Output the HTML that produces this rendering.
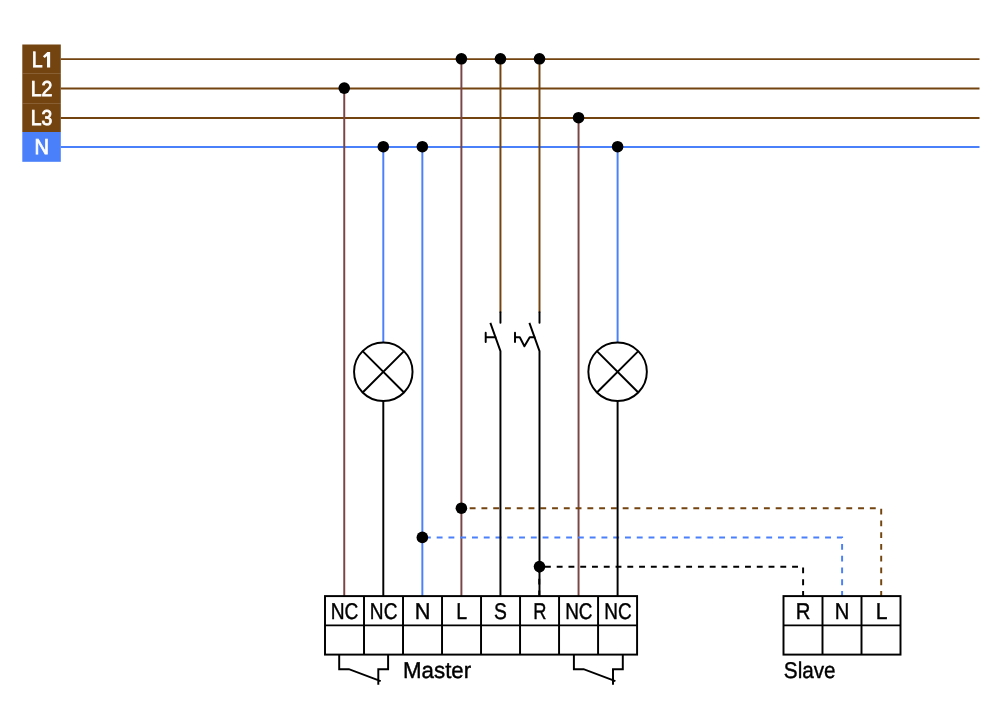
<!DOCTYPE html>
<html><head><meta charset="utf-8"><style>
html,body{margin:0;padding:0;background:#fff;width:1000px;height:726px;overflow:hidden}
svg{display:block;will-change:transform}
text{font-family:"Liberation Sans",sans-serif;text-rendering:geometricPrecision}
</style></head><body>
<svg width="1000" height="726" viewBox="0 0 1000 726">
<rect width="1000" height="726" fill="#fff"/>
<rect x="22.3" y="44.5" width="38.5" height="29" fill="#734410"/>
<rect x="22.3" y="73.3" width="38.5" height="30.2" fill="#734410"/>
<rect x="22.3" y="103.3" width="38.5" height="28.7" fill="#734410"/>
<rect x="22.3" y="132" width="38.5" height="29.8" fill="#4a80fa"/>
<text transform="translate(31.84 67.40) scale(0.8884 1)" font-size="22.0" fill="#fff" stroke="#fff" stroke-width="0.8">L</text>
<text transform="translate(30.73 96.45) scale(0.9070 1)" font-size="21.6" fill="#fff" stroke="#fff" stroke-width="0.8">L2</text>
<text transform="translate(30.75 125.45) scale(0.8979 1)" font-size="21.6" fill="#fff" stroke="#fff" stroke-width="0.8">L3</text>
<text transform="translate(34.50 154.45) scale(0.9259 1)" font-size="21.6" fill="#fff" stroke="#fff" stroke-width="0.8">N</text>
<path d="M50.15 52.1V67.5H47V56.1L44.7 57.9L42.9 56.3L47.4 52.1Z" fill="#fff"/>
<g stroke-width="1.95" fill="none">
<path d="M60.8 59.1H979.5M60.8 88.4H979.5M60.8 118.0H979.5" stroke="#734410"/>
<path d="M60.8 147.0H979.5" stroke="#4a80fa"/>
</g>
<path d="M344.25 88.4V596.1M461.4 59.1V596.1M578.55 118.0V596.1" stroke="#7a4545" stroke-width="1.95" fill="none"/>
<g stroke-width="1.95" fill="none" stroke-dasharray="5.885 5.885">
<path d="M881.2 596.9V508.2H461.4" stroke="#734410"/>
<path d="M842.1 596.9V537.4H422.35" stroke="#4a80fa"/>
<path d="M803.1 596.9V566.7H539.25V596" stroke="#000"/>
</g>
<g stroke-width="1.95" fill="none">
<path d="M500.45 59.1V312.3M539.5 59.1V312.3" stroke="#734410"/>
<path d="M383.3 147.0V342.55M422.35 147.0V596.1M617.6 147.0V342.55" stroke="#4a80fa"/>
<path d="M383.3 401.05V596.1M617.6 401.05V596.1" stroke="#000"/>
</g>
<g stroke-width="1.95" fill="none" stroke="#000" stroke-linecap="round" stroke-linejoin="round">
<path d="M500.45 312.3V322.7"/>
<path d="M490.35 322.9L500.45 351.1V596.1" stroke-linecap="butt"/>
<path d="M485.7 332.7V341.9M485.7 337.3H495.45"/>
<path d="M539.5 312.3V322.7"/>
<path d="M529.4 322.9L539.5 351.1V596.1" stroke-linecap="butt"/>
<path d="M515 332.7V341.9M515 337.3H519.8L524.4 346.3L529.7 337.3H534.5"/>
</g>
<g stroke="#000" stroke-width="1.95" fill="none">
<circle cx="383.3" cy="371.8" r="29.25"/>
<path d="M362.62 351.12L403.98 392.48M403.98 351.12L362.62 392.48"/>
<circle cx="617.6" cy="371.8" r="29.25"/>
<path d="M596.92 351.12L638.28 392.48M638.28 351.12L596.92 392.48"/>
</g>
<g fill="#000">
<circle cx="344.25" cy="88.1" r="5.8"/>
<circle cx="383.3" cy="146.7" r="5.8"/>
<circle cx="422.35" cy="146.7" r="5.8"/>
<circle cx="461.4" cy="58.8" r="5.8"/>
<circle cx="500.45" cy="58.8" r="5.8"/>
<circle cx="539.5" cy="58.8" r="5.8"/>
<circle cx="578.55" cy="117.7" r="5.8"/>
<circle cx="617.6" cy="146.7" r="5.8"/>
<circle cx="461.4" cy="508.2" r="5.8"/>
<circle cx="422.35" cy="537.4" r="5.8"/>
<circle cx="539.5" cy="566.6" r="5.8"/>
</g>
<g stroke="#000" stroke-width="1.95" fill="none">
<rect x="325" y="596.1" width="312.08" height="58.5"/>
<path d="M325 625.35H637.08M364.01 596.1V654.6M403.02 596.1V654.6M442.03 596.1V654.6M481.04 596.1V654.6M520.05 596.1V654.6M559.06 596.1V654.6M598.07 596.1V654.6"/>
<rect x="783.5" y="596.1" width="117" height="58.5"/>
<path d="M783.5 625.35H900.5M822.5 596.1V654.6M861.5 596.1V654.6"/>
<path d="M339.2 654.6V669.2H348.9L380.7 681.1M388.1 654.6V669.2H378.3V684.7"/>
<path d="M573.9 654.6V669.2H583.6L615.4 681.1M622.8 654.6V669.2H613V684.7"/>
</g>
<text transform="translate(330.77 619.45) scale(0.8406 1)" font-size="22.8" fill="#000" stroke="#000" stroke-width="0.4">NC</text>
<text transform="translate(369.87 619.45) scale(0.8373 1)" font-size="22.8" fill="#000" stroke="#000" stroke-width="0.4">NC</text>
<text transform="translate(414.66 619.45) scale(0.9555 1)" font-size="22.8" fill="#000" stroke="#000" stroke-width="0.4">N</text>
<text transform="translate(456.24 619.45) scale(0.8573 1)" font-size="22.8" fill="#000" stroke="#000" stroke-width="0.4">L</text>
<text transform="translate(494.04 619.45) scale(0.8464 1)" font-size="22.8" fill="#000" stroke="#000" stroke-width="0.4">S</text>
<text transform="translate(533.14 619.45) scale(0.8029 1)" font-size="22.8" fill="#000" stroke="#000" stroke-width="0.4">R</text>
<text transform="translate(565.18 619.45) scale(0.8307 1)" font-size="22.8" fill="#000" stroke="#000" stroke-width="0.4">NC</text>
<text transform="translate(604.28 619.45) scale(0.8307 1)" font-size="22.8" fill="#000" stroke="#000" stroke-width="0.4">NC</text>
<text transform="translate(795.77 619.45) scale(0.8921 1)" font-size="22.8" fill="#000" stroke="#000" stroke-width="0.4">R</text>
<text transform="translate(834.79 619.45) scale(0.8850 1)" font-size="22.8" fill="#000" stroke="#000" stroke-width="0.4">N</text>
<text transform="translate(875.71 619.45) scale(0.9270 1)" font-size="22.8" fill="#000" stroke="#000" stroke-width="0.4">L</text>
<text transform="translate(403.02 678.00) scale(0.9780 1)" font-size="22.8" fill="#000" stroke="#000" stroke-width="0.4">Master</text>
<text transform="translate(783.81 678.00) scale(0.9090 1)" font-size="22.8" fill="#000" stroke="#000" stroke-width="0.4">Slave</text>
</svg>
</body></html>
